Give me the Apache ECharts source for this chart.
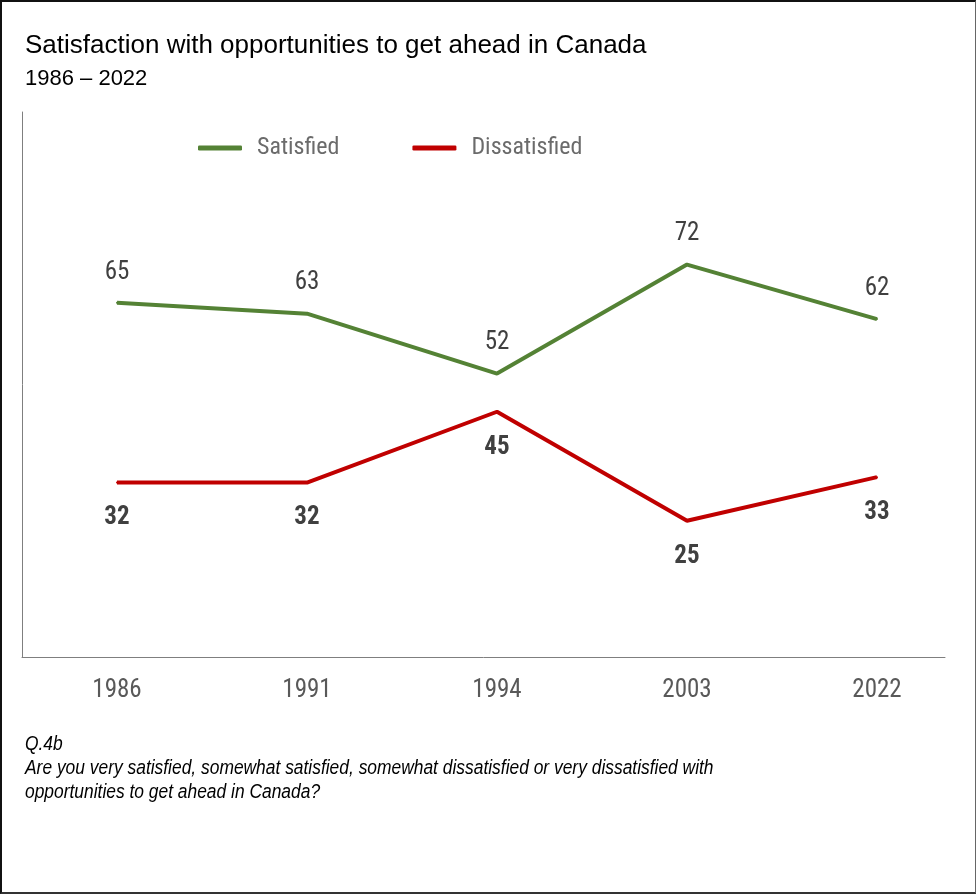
<!DOCTYPE html>
<html><head><meta charset="utf-8">
<script src="https://cdn.jsdelivr.net/npm/echarts@6/dist/echarts.min.js"></script>
<style>
html,body{margin:0;padding:0;background:#fff;}
#wrap{position:relative;width:976px;height:894px;box-sizing:border-box;border-left:2px solid #111;border-top:2px solid #111;border-right:1px solid #666;border-bottom:2px solid #333;}
#chart{position:absolute;left:-2px;top:-2px;width:976px;height:894px;}
</style></head>
<body><div id="wrap"><div id="chart"></div></div>
<script>
const years = ['1986','1991','1994','2003','2022'];
const satisfied = [65, 63, 52, 72, 62];
const dissatisfied = [32, 32, 45, 25, 33];
const seriesNames = ['Satisfied','Dissatisfied'];

const NARROW = '"Liberation Sans Narrow","Roboto Condensed","DejaVu Sans Condensed",sans-serif';
const ARIAL = '"Liberation Sans",Arial,sans-serif';

const chart = echarts.init(document.getElementById('chart'), null, {renderer:'canvas'});
chart.setOption({
  animation:false,
  backgroundColor:'transparent',
  title:[
    {text:'Satisfaction with opportunities to get ahead in Canada', left:20, top:28,
     textStyle:{fontFamily:ARIAL, fontSize:26, fontWeight:'normal', color:'#000'}},
    {text:'1986 – 2022', left:20, top:63,
     textStyle:{fontFamily:ARIAL, fontSize:22, fontWeight:'normal', color:'#000'}}
  ],
  graphic:[
    {type:'text', left:25, top:732, scaleX:0.87, originX:0,
     style:{text:'Q.4b\nAre you very satisfied, somewhat satisfied, somewhat dissatisfied or very dissatisfied with\nopportunities to get ahead in Canada?',
       font:'italic 20px "Liberation Sans", Arial, sans-serif', fill:'#000', lineHeight:24}}
  ],
  legend:{
    data:seriesNames, top:131, left:193, itemWidth:44, itemHeight:5, itemGap:73,
    icon:'roundRect',
    textStyle:{fontFamily:NARROW, fontSize:24, color:'#6b6b6b', padding:[0,0,0,10]}
  },
  grid:{left:22, right:31, top:112, bottom:237},
  xAxis:{
    type:'value', min:-0.5, max:(945-22)/190-0.5, interval:0.5,
    splitLine:{show:false}, axisTick:{show:false},
    axisLine:{show:true, onZero:false, lineStyle:{color:'#7f7f7f', width:1}},
    axisLabel:{
      showMinLabel:false, showMaxLabel:false,
      margin:21, fontFamily:NARROW, fontSize:25, color:'#595959',
      formatter:function(v){ return Number.isInteger(v) && years[v] !== undefined ? years[v] : ''; }
    }
  },
  yAxis:{
    type:'value', min:0, max:100,
    splitLine:{show:false}, axisTick:{show:false}, axisLabel:{show:false},
    axisLine:{show:true, onZero:false, lineStyle:{color:'#7f7f7f', width:1}}
  },
  series:[
    {name:seriesNames[0], type:'line', data:satisfied.map((v,i)=>[i,v]),
     symbol:'circle', symbolSize:2, showSymbol:true, lineStyle:{color:'#548235', width:4}, itemStyle:{color:'#548235'},
     label:{show:true, position:'top', distance:17, fontFamily:NARROW, fontSize:25, color:'#404040',
       formatter:p=>p.value[1]}},
    {name:seriesNames[1], type:'line', data:dissatisfied.map((v,i)=>[i,v]),
     symbol:'circle', symbolSize:2, showSymbol:true, lineStyle:{color:'#c00000', width:4}, itemStyle:{color:'#c00000'},
     label:{show:true, position:'bottom', distance:22, fontFamily:NARROW, fontSize:25, fontWeight:'bold', color:'#404040',
       formatter:p=>p.value[1]}}
  ]
});
</script></body></html>
